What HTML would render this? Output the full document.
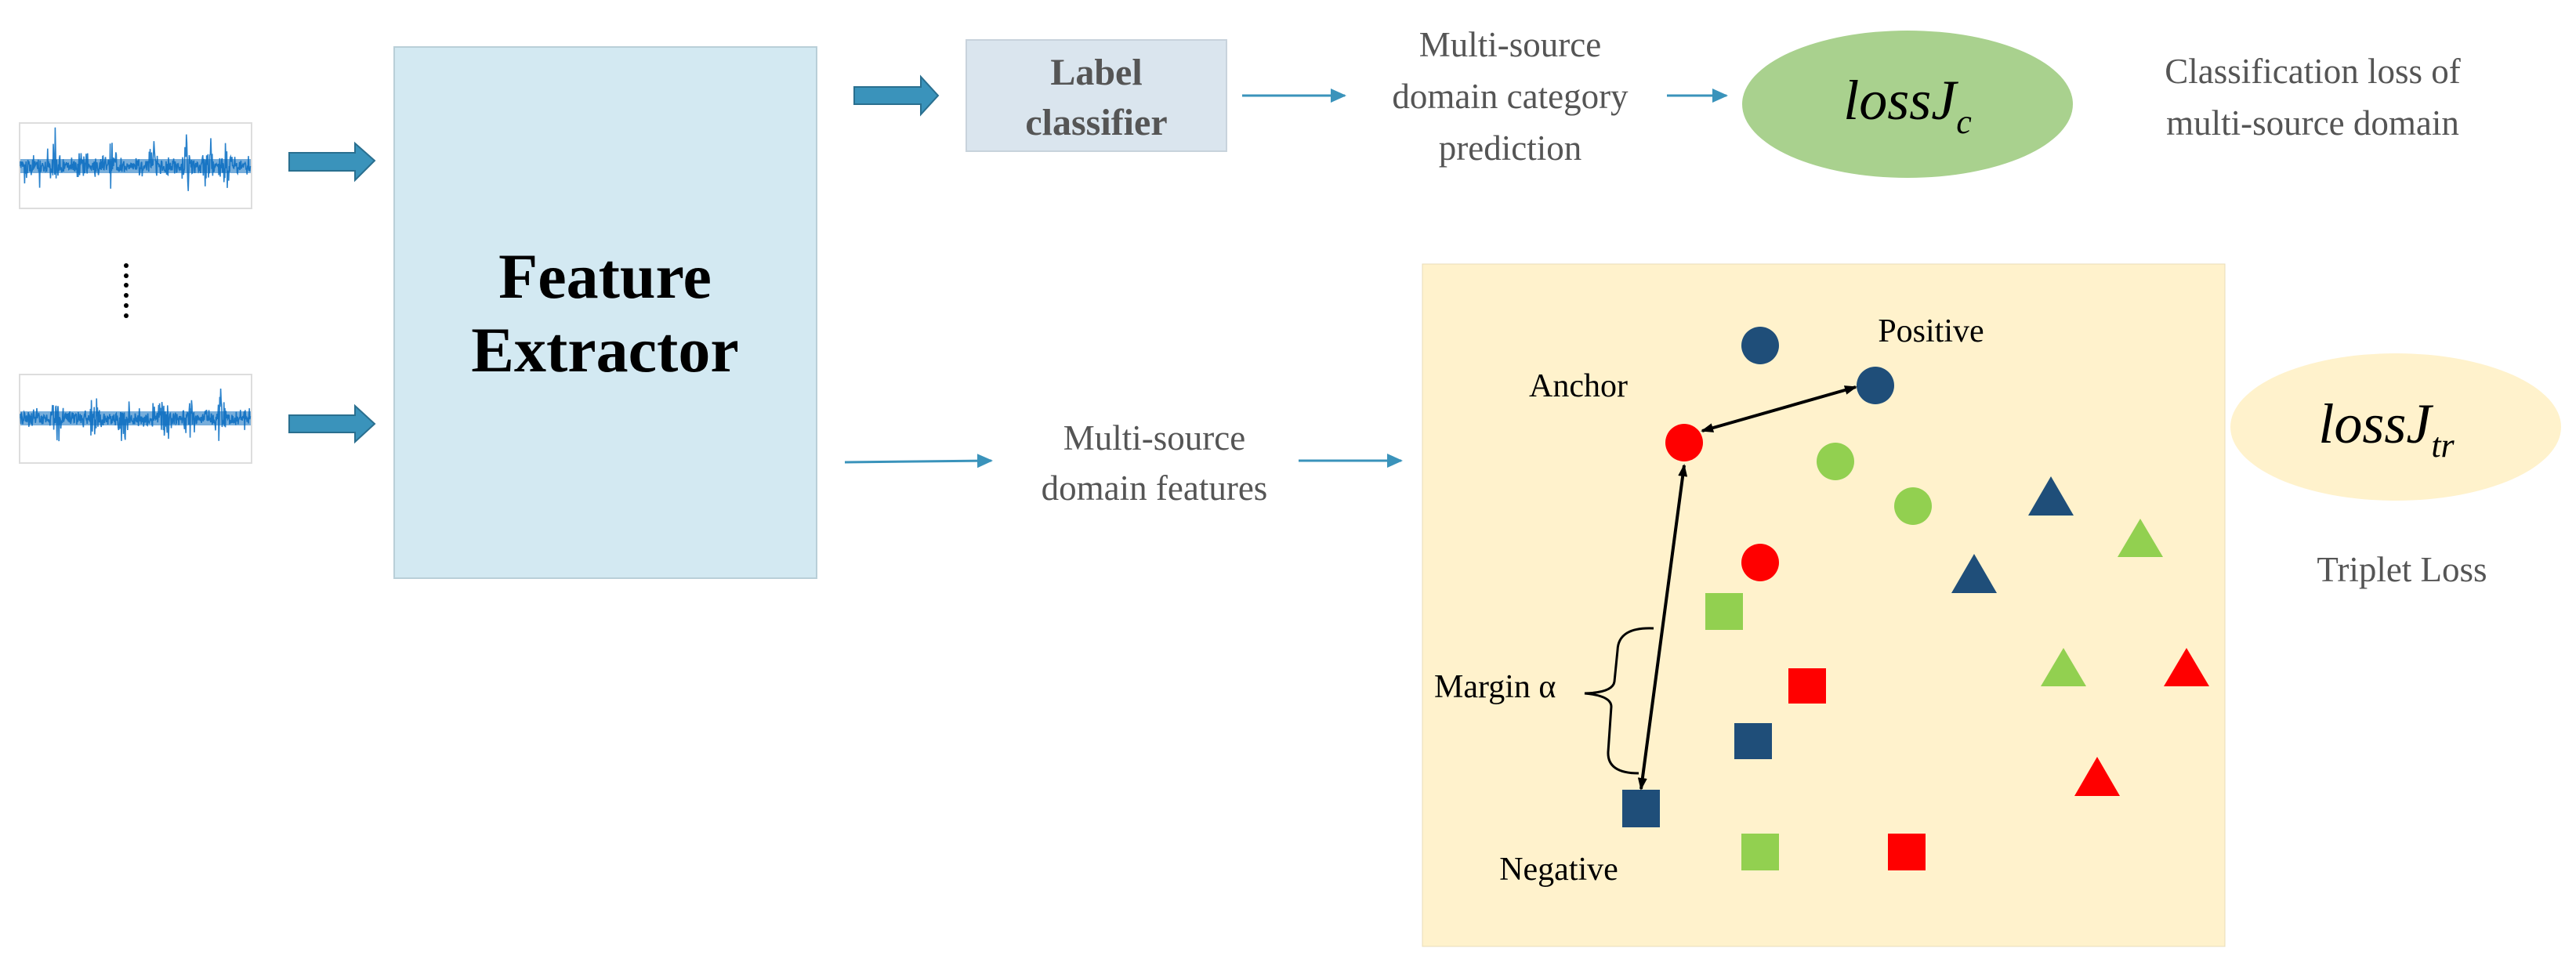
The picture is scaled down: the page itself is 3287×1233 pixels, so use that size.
<!DOCTYPE html>
<html><head><meta charset="utf-8"><style>
html,body{margin:0;padding:0;background:#fff;}
svg{display:block;}
</style></head><body>
<svg id="s" width="3287" height="1233" viewBox="0 0 3287 1233" xmlns="http://www.w3.org/2000/svg" font-family="Liberation Serif, serif">
<defs>
<marker id="ab" markerWidth="22" markerHeight="22" refX="18" refY="11" orient="auto" markerUnits="userSpaceOnUse" viewBox="0 0 22 22"><path d="M0,2 L20,11 L0,20 z" fill="#3a93bb"/></marker>
<marker id="ak" markerWidth="16" markerHeight="16" refX="14" refY="8" orient="auto-start-reverse" markerUnits="userSpaceOnUse" viewBox="0 0 16 16"><path d="M0,2 L16,8 L0,14 z" fill="#000"/></marker>
<clipPath id="c1"><rect x="25" y="157" width="296" height="109"/></clipPath>
<clipPath id="c2"><rect x="25" y="478" width="296" height="113"/></clipPath>
</defs>
<rect x="25" y="157" width="296" height="109" fill="#fff" stroke="#ddd" stroke-width="2"/>
<rect x="25" y="478" width="296" height="113" fill="#fff" stroke="#ddd" stroke-width="2"/>
<g id="w1" clip-path="url(#c1)"></g><g id="w2" clip-path="url(#c2)"></g>
<g fill="#000"><circle cx="161" cy="339" r="3"/><circle cx="161" cy="352" r="3"/><circle cx="161" cy="364" r="3"/><circle cx="161" cy="377" r="3"/><circle cx="161" cy="390" r="3"/><circle cx="161" cy="403" r="3"/></g>
<g fill="#3a93bb" stroke="#2a6f8f" stroke-width="2">
<path d="M369,195 H453 V183 L478,205 L453,230 V218 H369 z"/>
<path d="M369,530 H453 V518 L478,541 L453,564 V552 H369 z"/>
<path d="M1090,111 H1175 V98 L1197,122 L1175,146 V133 H1090 z"/>
</g>
<rect x="503" y="60" width="539" height="678" fill="#d3e9f2" stroke="#b9cfd8" stroke-width="2"/>
<text x="772" y="380" font-size="82" font-weight="bold" text-anchor="middle">Feature</text>
<text x="772" y="474" font-size="82" font-weight="bold" text-anchor="middle">Extractor</text>
<rect x="1233" y="51" width="332" height="142" fill="#dae5ee" stroke="#c8d3dc" stroke-width="2"/>
<text x="1399" y="108" font-size="48" font-weight="bold" fill="#555" text-anchor="middle">Label</text>
<text x="1399" y="172" font-size="48" font-weight="bold" fill="#555" text-anchor="middle">classifier</text>
<g stroke="#3a93bb" stroke-width="3" fill="none">
<line x1="1585" y1="122" x2="1716" y2="122" marker-end="url(#ab)"/>
<line x1="2127" y1="122" x2="2203" y2="122" marker-end="url(#ab)"/>
<line x1="1078" y1="590" x2="1265" y2="588" marker-end="url(#ab)"/>
<line x1="1657" y1="588" x2="1788" y2="588" marker-end="url(#ab)"/>
</g>
<g fill="#555" font-size="45" text-anchor="middle">
<text x="1927" y="72">Multi-source</text>
<text x="1927" y="138">domain category</text>
<text x="1927" y="204">prediction</text>
<text x="1473" y="574">Multi-source</text>
<text x="1473" y="638">domain features</text>
<text x="2951" y="106">Classification loss of</text>
<text x="2951" y="172">multi-source domain</text>
<text x="3065" y="742">Triplet Loss</text>
</g>
<ellipse cx="2434" cy="133" rx="211" ry="94" fill="#a9d18e"/>
<text x="2434" y="152" font-size="72" font-style="italic" text-anchor="middle">lossJ<tspan font-size="44" dy="18">c</tspan></text>
<rect x="1815" y="337" width="1024" height="871" fill="#fff2cc" stroke="#e8dcb8" stroke-width="1"/>
<ellipse cx="3057" cy="545" rx="211" ry="94" fill="#fff2cc"/>
<text x="3045" y="565" font-size="72" font-style="italic" text-anchor="middle">lossJ<tspan font-size="44" dy="18">tr</tspan></text>
<g fill="#1f4e79">
<circle cx="2246" cy="441" r="24"/><circle cx="2393" cy="492" r="24"/>
<path d="M2617,608 L2646,658 L2588,658 z"/><path d="M2519,707 L2548,757 L2490,757 z"/>
<rect x="2213" y="923" width="48" height="46"/><rect x="2070" y="1008" width="48" height="48"/>
</g>
<g fill="#ff0000">
<circle cx="2149" cy="565" r="24"/><circle cx="2246" cy="718" r="24"/>
<path d="M2790,827 L2819,876 L2761,876 z"/><path d="M2676,966 L2705,1016 L2647,1016 z"/>
<rect x="2282" y="853" width="48" height="45"/><rect x="2409" y="1064" width="48" height="47"/>
</g>
<g fill="#92d050">
<circle cx="2342" cy="589" r="24"/><circle cx="2441" cy="646" r="24"/>
<path d="M2731,662 L2760,711 L2702,711 z"/><path d="M2633,827 L2662,876 L2604,876 z"/>
<rect x="2176" y="757" width="48" height="47"/><rect x="2222" y="1064" width="48" height="47"/>
</g>
<g stroke="#000" stroke-width="4" fill="none">
<line x1="2172" y1="550" x2="2368" y2="494" marker-start="url(#ak)" marker-end="url(#ak)"/>
<line x1="2149" y1="594" x2="2094" y2="1007" marker-start="url(#ak)" marker-end="url(#ak)"/>
<path d="M2110,802 Q2065,800 2064,830 L2060,870 Q2058,884 2022,885 Q2056,888 2056,902 L2052,960 Q2051,987 2091,987" stroke-width="3"/>
</g>
<g font-size="42" fill="#000">
<text x="2464" y="436" text-anchor="middle">Positive</text>
<text x="2014" y="506" text-anchor="middle">Anchor</text>
<text x="1830" y="890">Margin α</text>
<text x="1989" y="1123" text-anchor="middle">Negative</text>
</g>
</svg>
<script>
(function(){
var seed=11;function r(){seed=(seed*16807)%2147483647;return seed/2147483647;}
function g(){return (r()+r()+r()-1.5)/1.5;}
function wave(id,x0,x1,cy,amp,spk){
 var d="M"+x0+","+cy;
 for(var x=x0;x<=x1;x+=0.6){
  var env=0.55+0.45*Math.abs(Math.sin(x/9));
  var a=g()*amp*1.1*env;
  for(var i=0;i<spk.length;i++){var dx=Math.abs(x-spk[i]);if(dx<8)a=g()*amp*(3.2-dx*0.25);}
  if(r()<0.03)a=g()*amp*2.0;
  d+=" L"+x.toFixed(1)+","+(cy+a).toFixed(1);
 }
 var p=document.createElementNS("http://www.w3.org/2000/svg","path");
 p.setAttribute("d",d);p.setAttribute("stroke","#2a82cc");p.setAttribute("stroke-width","1.6");p.setAttribute("fill","none");
 document.getElementById(id).appendChild(p);
 var q=document.createElementNS("http://www.w3.org/2000/svg","rect");
 q.setAttribute("x",x0);q.setAttribute("y",cy-9);q.setAttribute("width",x1-x0);q.setAttribute("height",18);q.setAttribute("fill","#0a6cbd");q.setAttribute("opacity","0.55");
 document.getElementById(id).appendChild(q);
}
wave("w1",26,320,212,17,[70,105,142,195,238,266,288]);
wave("w2",26,320,534,17,[74,120,158,210,242,280]);
})();
</script>
</body></html>
